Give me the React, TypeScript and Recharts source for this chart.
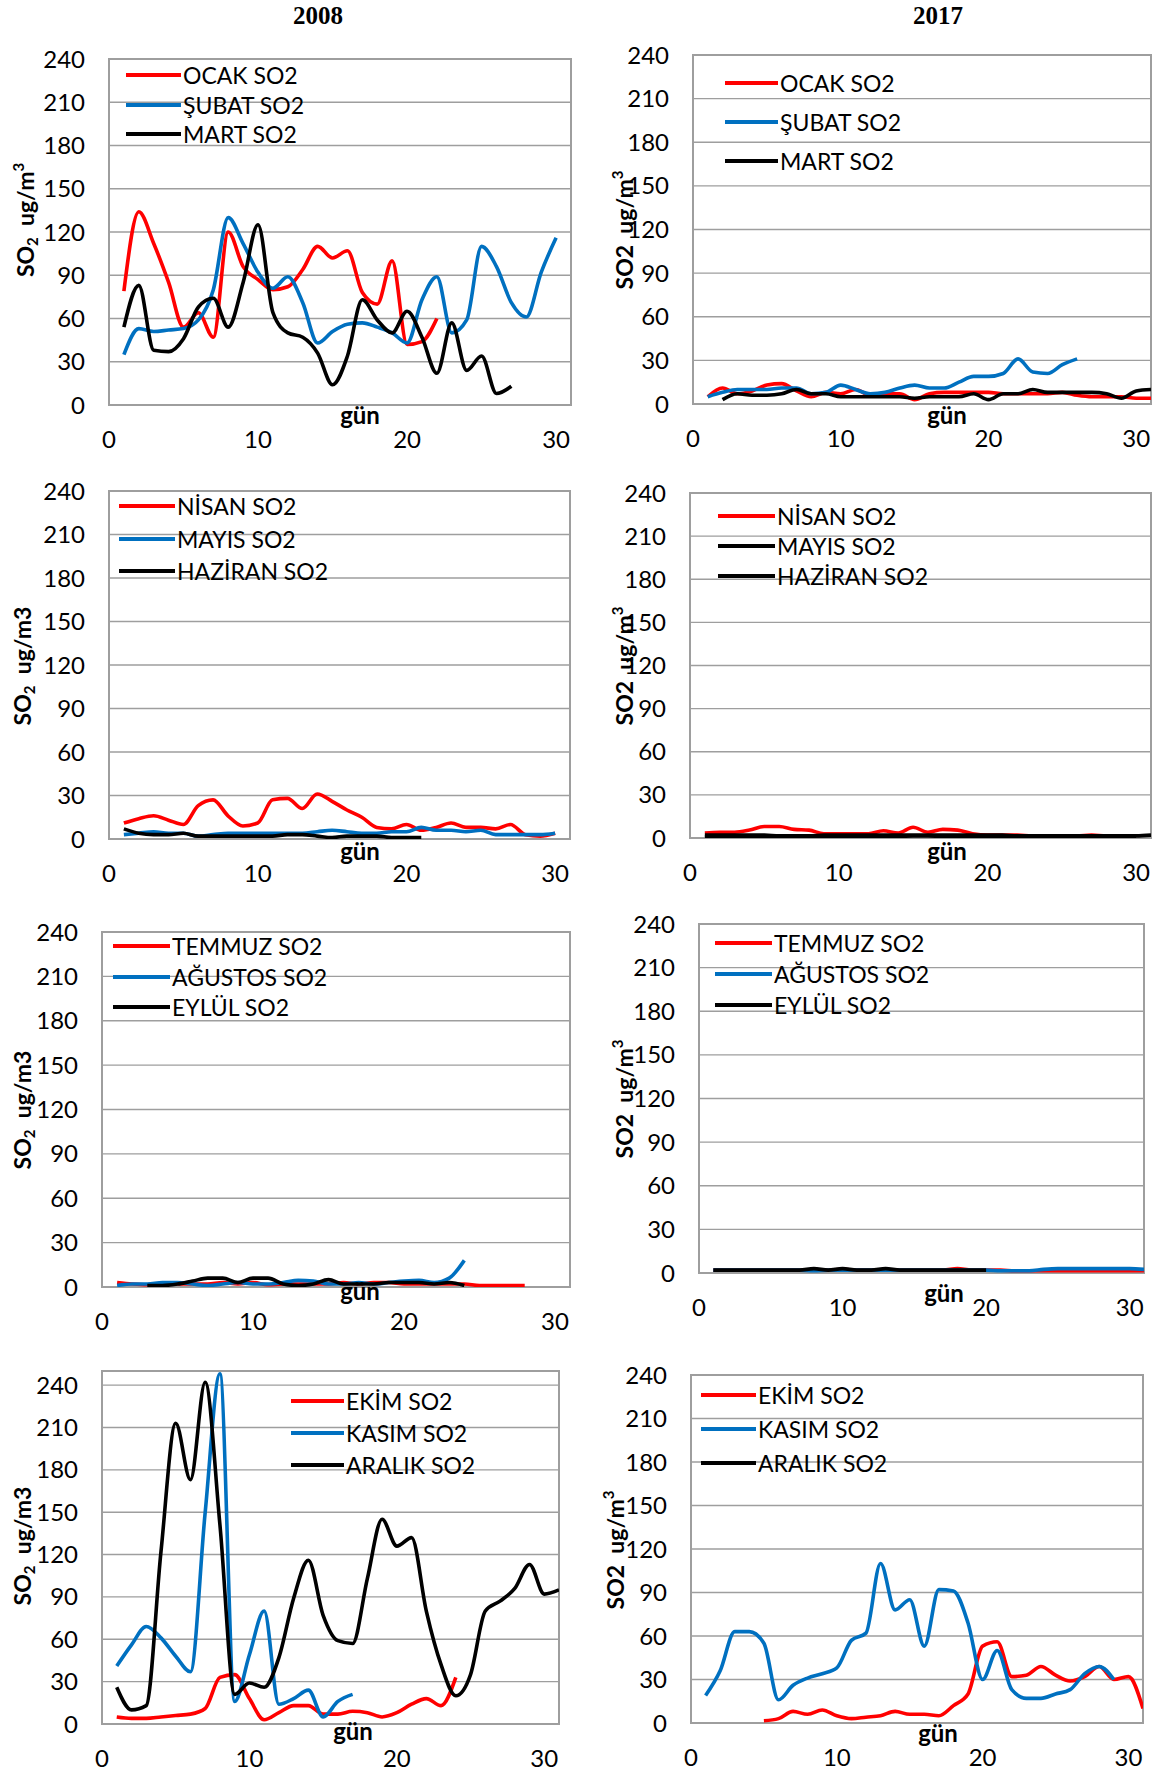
import React from 'react';
import { LineChart, Line, XAxis, YAxis, CartesianGrid, ReferenceArea } from 'recharts';

const yTicks = [0, 30, 60, 90, 120, 150, 180, 210, 240];
const xTicks = [0, 10, 20, 30];

// 2008 - ocak / şubat / mart
const ocak2008 = [79, 134, 112, 85, 54, 64, 47, 120, 96, 87, 80, 82, 94, 110, 102, 107, 78, 70, 100, 42, 44, 60];
const subat2008 = [35, 53, 51, 52, 53, 59, 80, 130, 112, 92, 81, 89, 71, 43, 51, 56, 57, 54, 50, 43, 73, 89, 50, 59, 110, 96, 71, 61, 92, 116];
const mart2008 = [54, 83, 38, 37, 46, 68, 74, 54, 85, 125, 64, 50, 47, 36, 14, 34, 73, 59, 50, 65, 47, 22, 57, 24, 34, 8, 13];

// 2017 - ocak / şubat / mart (mart starts on day 2)
const ocak2017 = [5, 11, 7, 9, 13, 14, 9, 5, 8, 7, 10, 6, 7, 7, 3, 7, 8, 8, 8, 8, 7, 7, 7, 7, 8, 6, 5, 5, 5, 4, 4];
const subat2017 = [5, 8, 10, 10, 10, 11, 11, 7, 8, 13, 10, 7, 8, 11, 13, 11, 11, 15, 19, 19, 21, 31, 22, 21, 27, 31];
const mart2017 = [3, 7, 6, 6, 7, 10, 7, 7, 5, 5, 5, 5, 5, 4, 5, 5, 5, 7, 3, 7, 7, 10, 8, 8, 8, 8, 7, 4, 9, 10];

// 2008 - nisan / mayıs / haziran
const nisan2008 = [11, 14, 16, 13, 10, 23, 27, 16, 9, 11, 27, 28, 21, 31, 26, 20, 15, 8, 7, 10, 6, 8, 11, 8, 8, 7, 10, 3, 2, 4];
const mayis2008 = [3, 4, 5, 4, 4, 2, 3, 4, 4, 4, 4, 4, 4, 5, 6, 5, 4, 4, 5, 5, 8, 6, 6, 5, 6, 3, 3, 3, 3, 4];
const haziran2008 = [7, 4, 3, 3, 4, 2, 2, 2, 2, 2, 2, 3, 3, 2, 1, 2, 2, 2, 1, 1, 1];

// 2017 - nisan / mayıs / haziran
const nisan2017 = [3.5, 4, 4, 5.5, 8, 8, 6, 5.5, 3, 3, 3, 3, 5, 3.5, 7.5, 4, 6, 5.5, 3, 2, 2, 2, 1.5, 1.5, 1.5, 1.5, 2, 1.5, 1.5, 1.5];
const mayis2017 = [2, 2, 2, 2, 2, 1.5, 1.5, 1.5, 2, 2, 2, 2, 2, 2, 2, 2, 2, 2, 2, 2, 2, 1.5, 1.5, 1.5, 1.5, 1.5, 1.5, 1.5, 1.5, 1.5, 2];
const haziran2017 = [1, 1, 1, 1, 0.5, 0.5, 0.5, 1, 1, 1, 1, 1, 1, 1, 1.5, 1.5, 1, 1, 1, 1, 1, 1, 1, 1, 1, 1, 1, 1, 1, 1];

// 2008 - temmuz / ağustos / eylül (eylül starts on day 3)
const temmuz2008 = [3, 2, 1.5, 2, 2, 2, 2, 3, 2, 3, 1.5, 2, 2, 2, 2, 3, 2, 3, 3, 2, 2, 2, 2, 2, 1, 1, 1, 1];
const agustos2008 = [1, 2, 2, 3, 3, 2, 1, 2, 3, 2, 2, 3, 4.5, 4, 2, 2, 3, 2, 3, 4, 4.5, 3, 6, 18];
const eylul2008 = [1, 1, 2, 4, 6, 6, 3, 6, 6, 2, 1, 2, 5, 2, 2, 2, 3, 3, 3, 2, 3, 1];

// 2017 - temmuz / ağustos / eylül
const temmuz2017 = [2, 2, 2, 2, 2, 2, 2, 2, 2, 2.5, 2, 2, 2, 2, 2, 2, 2, 3, 2, 2, 2, 1.5, 1.5, 1.5, 1.5, 1.5, 1.5, 1.5, 1.5, 1.5, 1.5];
const agustos2017 = [2, 2, 2, 2, 2, 2, 2, 1.5, 2, 2, 2, 2, 2, 2, 2, 2, 2, 2, 2, 2, 1.5, 1.5, 1.5, 2.5, 3, 3, 3, 3, 3, 3, 2.5];
const eylul2017 = [2, 2, 2, 2, 2, 2, 2, 3, 2, 3, 2, 2, 3, 2, 2, 2, 2, 2, 2, 2];

// 2008 - ekim / kasım / aralık
const ekim2008 = [5, 4, 4, 5, 6, 7, 11, 33, 35, 18, 3, 8, 13, 13, 7, 7, 9, 8, 5, 8, 14, 18, 13, 33];
const kasim2008 = [41, 56, 69, 61, 48, 37, 150, 248, 16, 49, 80, 14, 18, 24, 5, 16, 21];
const aralik2008 = [26, 10, 13, 122, 213, 173, 242, 141, 21, 29, 26, 47, 89, 116, 77, 59, 57, 103, 145, 126, 132, 80, 42, 20, 35, 80, 87, 96, 113, 92, 95];

// 2017 - ekim (starts on day 5) / kasım
const ekim2017 = [1.5, 3, 8, 6, 9, 5, 3, 4, 5, 8, 6, 6, 5, 12, 20, 53, 56, 32, 33, 39, 33, 29, 32, 39, 30, 32, 10];
const kasim2017 = [19, 36, 63, 63, 55, 16, 26, 31, 34, 38, 57, 62, 110, 78, 85, 53, 92, 91, 69, 30, 50, 23, 17, 17, 20, 23, 34, 39, 30];

const RED = '#ff0000';
const BLUE = '#0070c0';
const BLACK = '#000000';
const GRID = '#9e9e9e';
const FONT = 'Lato, "Open Sans", sans-serif';

interface Series {
  name: string;
  values: number[];
  start: number;
  color: string;
}

interface PanelDef {
  plot: { left: number; top: number; right: number; bottom: number };
  yMax: number;
  series: Series[];
  legend: { x: number; y: number; gap: number; w: number };
  yLabel: { x: number; y: number; sub: boolean; sup: boolean };
  gun: { x: number; y: number };
}

const toPoints = (s: Series) => s.values.map((v, i) => ({ day: s.start + i, v }));

const panels: PanelDef[] = [
  {
    plot: { left: 109, top: 59, right: 571, bottom: 405 },
    yMax: 240,
    series: [
      { name: 'OCAK SO2', values: ocak2008, start: 1, color: RED },
      { name: 'ŞUBAT SO2', values: subat2008, start: 1, color: BLUE },
      { name: 'MART SO2', values: mart2008, start: 1, color: BLACK },
    ],
    legend: { x: 126, y: 75, gap: 29.5, w: 55 },
    yLabel: { x: 25, y: 220, sub: true, sup: true },
    gun: { x: 360, y: 415 },
  },
  {
    plot: { left: 693, top: 55, right: 1151, bottom: 404 },
    yMax: 240,
    series: [
      { name: 'OCAK SO2', values: ocak2017, start: 1, color: RED },
      { name: 'ŞUBAT SO2', values: subat2017, start: 1, color: BLUE },
      { name: 'MART SO2', values: mart2017, start: 2, color: BLACK },
    ],
    legend: { x: 725, y: 83, gap: 39, w: 53 },
    yLabel: { x: 620, y: 230, sub: false, sup: true },
    gun: { x: 947, y: 415 },
  },
  {
    plot: { left: 109, top: 491, right: 570, bottom: 839 },
    yMax: 240,
    series: [
      { name: 'NİSAN SO2', values: nisan2008, start: 1, color: RED },
      { name: 'MAYIS SO2', values: mayis2008, start: 1, color: BLUE },
      { name: 'HAZİRAN SO2', values: haziran2008, start: 1, color: BLACK },
    ],
    legend: { x: 119, y: 506, gap: 32.5, w: 56 },
    yLabel: { x: 25, y: 666, sub: true, sup: false },
    gun: { x: 360, y: 851 },
  },
  {
    plot: { left: 690, top: 493, right: 1151, bottom: 838 },
    yMax: 240,
    series: [
      { name: 'NİSAN SO2', values: nisan2017, start: 1, color: RED },
      { name: 'MAYIS SO2', values: mayis2017, start: 1, color: BLACK },
      { name: 'HAZİRAN SO2', values: haziran2017, start: 1, color: BLACK },
    ],
    legend: { x: 718, y: 516, gap: 30, w: 57 },
    yLabel: { x: 620, y: 666, sub: false, sup: true },
    gun: { x: 947, y: 851 },
  },
  {
    plot: { left: 102, top: 932, right: 570, bottom: 1287 },
    yMax: 240,
    series: [
      { name: 'TEMMUZ SO2', values: temmuz2008, start: 1, color: RED },
      { name: 'AĞUSTOS SO2', values: agustos2008, start: 1, color: BLUE },
      { name: 'EYLÜL SO2', values: eylul2008, start: 3, color: BLACK },
    ],
    legend: { x: 113, y: 946, gap: 30.5, w: 57 },
    yLabel: { x: 25, y: 1110, sub: true, sup: false },
    gun: { x: 360, y: 1291 },
  },
  {
    plot: { left: 699, top: 924, right: 1144, bottom: 1273 },
    yMax: 240,
    series: [
      { name: 'TEMMUZ SO2', values: temmuz2017, start: 1, color: RED },
      { name: 'AĞUSTOS SO2', values: agustos2017, start: 1, color: BLUE },
      { name: 'EYLÜL SO2', values: eylul2017, start: 1, color: BLACK },
    ],
    legend: { x: 715, y: 942.5, gap: 31, w: 57 },
    yLabel: { x: 620, y: 1099, sub: false, sup: true },
    gun: { x: 944, y: 1293 },
  },
  {
    plot: { left: 102, top: 1371, right: 559, bottom: 1724 },
    yMax: 250,
    series: [
      { name: 'EKİM SO2', values: ekim2008, start: 1, color: RED },
      { name: 'KASIM SO2', values: kasim2008, start: 1, color: BLUE },
      { name: 'ARALIK SO2', values: aralik2008, start: 1, color: BLACK },
    ],
    legend: { x: 291, y: 1401, gap: 32, w: 53 },
    yLabel: { x: 25, y: 1546, sub: true, sup: false },
    gun: { x: 353, y: 1731 },
  },
  {
    plot: { left: 691, top: 1375, right: 1143, bottom: 1723 },
    yMax: 240,
    series: [
      { name: 'EKİM SO2', values: ekim2017, start: 5, color: RED },
      { name: 'KASIM SO2', values: kasim2017, start: 1, color: BLUE },
      { name: 'ARALIK SO2', values: [], start: 1, color: BLACK },
    ],
    legend: { x: 701, y: 1395, gap: 34, w: 55 },
    yLabel: { x: 611, y: 1550, sub: false, sup: true },
    gun: { x: 938, y: 1733 },
  },
];

const Y_AXIS_W = 100;
const M_TOP = 24;
const M_RIGHT = 8;
const X_AXIS_H = 56;

function Panel({ p }: { p: PanelDef }) {
  const { left, top, right, bottom } = p.plot;
  const width = right - left + Y_AXIS_W + M_RIGHT;
  const height = bottom - top + M_TOP + X_AXIS_H;
  const tickStyle = { fill: '#000', fontSize: 24, fontFamily: FONT };

  return (
    <>
      <div style={{ position: 'absolute', left: left - Y_AXIS_W, top: top - M_TOP }}>
        <LineChart width={width} height={height} margin={{ top: M_TOP, right: M_RIGHT, left: 0, bottom: 0 }}>
          <CartesianGrid vertical={false} stroke={GRID} strokeWidth={1.4} />
          <XAxis
            type="number"
            dataKey="day"
            domain={[0, 31]}
            ticks={xTicks}
            interval={0}
            allowDataOverflow
            axisLine={false}
            tickLine={false}
            tickSize={0}
            tickMargin={26}
            height={X_AXIS_H}
            tick={tickStyle}
          />
          <YAxis
            type="number"
            domain={[0, p.yMax]}
            ticks={yTicks}
            interval={0}
            allowDataOverflow
            axisLine={false}
            tickLine={false}
            tickSize={0}
            tickMargin={24}
            width={Y_AXIS_W}
            tick={tickStyle}
          />
          <ReferenceArea x1={0} x2={31} y1={0} y2={p.yMax} fill="none" stroke={GRID} strokeWidth={2} ifOverflow="visible" />
          {p.series
            .filter((s) => s.values.length > 0)
            .map((s) => (
              <Line
                key={s.name}
                data={toPoints(s)}
                dataKey="v"
                type="monotone"
                stroke={s.color}
                strokeWidth={3.6}
                dot={false}
                activeDot={false}
                isAnimationActive={false}
              />
            ))}
        </LineChart>
      </div>

      {/* legend */}
      {p.series.map((s, i) => {
        const cy = p.legend.y + i * p.legend.gap;
        return (
          <React.Fragment key={s.name}>
            <div
              style={{
                position: 'absolute',
                left: p.legend.x,
                top: cy - 2,
                width: p.legend.w,
                height: 4,
                background: s.color,
              }}
            />
            <div
              style={{
                position: 'absolute',
                left: p.legend.x + p.legend.w + 2,
                top: cy,
                transform: 'translateY(-50%)',
                fontFamily: FONT,
                fontSize: 23,
                lineHeight: '26px',
                whiteSpace: 'nowrap',
                color: '#000',
              }}
            >
              {s.name}
            </div>
          </React.Fragment>
        );
      })}

      {/* y axis title */}
      <div
        style={{
          position: 'absolute',
          left: p.yLabel.x,
          top: p.yLabel.y,
          transform: 'translate(-50%, -50%) rotate(-90deg)',
          fontFamily: FONT,
          fontWeight: 700,
          fontSize: 23,
          lineHeight: '26px',
          whiteSpace: 'pre',
          color: '#000',
        }}
      >
        SO{p.yLabel.sub ? <sub style={{ fontSize: 15, verticalAlign: '-4px' }}>2</sub> : '2'}
        {'  '}ug/m{p.yLabel.sup ? <sup style={{ fontSize: 15, verticalAlign: '10px' }}>3</sup> : '3'}
      </div>

      {/* x axis title */}
      <div
        style={{
          position: 'absolute',
          left: p.gun.x,
          top: p.gun.y,
          transform: 'translate(-50%, -50%)',
          fontFamily: FONT,
          fontWeight: 700,
          fontSize: 24,
          lineHeight: '26px',
          color: '#000',
        }}
      >
        gün
      </div>
    </>
  );
}

export default function App() {
  const titleStyle: React.CSSProperties = {
    position: 'absolute',
    top: 16,
    transform: 'translate(-50%, -50%)',
    fontFamily: '"Liberation Serif", "Times New Roman", serif',
    fontWeight: 700,
    fontSize: 25,
    lineHeight: '28px',
    color: '#000',
  };
  return (
    <div style={{ position: 'absolute', left: 0, top: 0, width: 1154, height: 1774, background: '#fff', overflow: 'hidden' }}>
      <div style={{ ...titleStyle, left: 318 }}>2008</div>
      <div style={{ ...titleStyle, left: 938 }}>2017</div>
      {panels.map((p, i) => (
        <Panel key={i} p={p} />
      ))}
    </div>
  );
}
